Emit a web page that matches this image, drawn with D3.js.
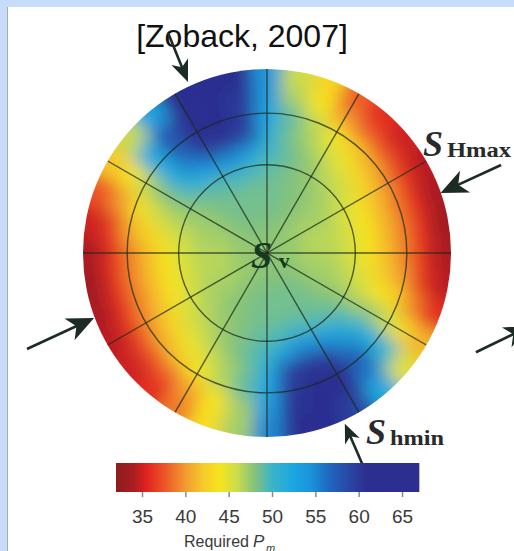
<!DOCTYPE html>
<html>
<head>
<meta charset="utf-8">
<script src="https://cdn.jsdelivr.net/npm/d3@7"></script>
<style>
  html, body { margin: 0; padding: 0; background: #fff; }
  svg { display: block; }
</style>
</head>
<body>
<div id="chart"></div>
<script>
// Required mud pressure Pm, one array per ring.
// azimuth is clockwise from the top, ring edges are fractions of the net radius
const azimuths = [0, 10, 20, 30, 40, 50, 60, 70, 80, 90, 100, 110, 120, 130, 140, 150, 160, 170,
                  180, 190, 200, 210, 220, 230, 240, 250, 260, 270, 280, 290, 300, 310, 320, 330, 340, 350];
const ringEdges = [0, 0.2, 0.4, 0.5, 0.6, 0.7, 0.8, 0.9, 1.12];

const pmRing10 = [48, 48, 48, 47.5, 47.5, 47.5, 47.5, 47.5, 47.5, 47.5, 47.5, 47.5, 47.5, 48, 48, 48, 48, 48,
                  48, 48, 48, 47.5, 47.5, 47.5, 47.5, 47.5, 47.5, 47.5, 47.5, 47.5, 47.5, 48, 48, 48, 48, 48];
const pmRing30 = [48.5, 48.5, 48, 48, 47.5, 47, 47, 46.5, 46.5, 46.5, 47, 47, 47.5, 48, 48.5, 48.5, 48.5, 48.5,
                  48.5, 48.5, 48, 48, 47.5, 47, 47, 46.5, 46.5, 46.5, 47, 47, 47.5, 48, 48.5, 48.5, 48.5, 48.5];
const pmRing45 = [49, 48.5, 48, 47.5, 47, 46.5, 46, 45.5, 45.5, 45.5, 46, 46.5, 47.5, 48.5, 49, 49.5, 50, 49.5,
                  49, 48.5, 48, 47.5, 47, 46.5, 46, 45.5, 45.5, 45.5, 46, 47, 47.5, 48.5, 49, 49.5, 50, 49.5];
const pmRing55 = [50, 49, 48, 47, 46, 45.5, 44.5, 44, 44, 44, 44.5, 45.5, 47, 49.5, 52, 54, 55, 53,
                  50, 49, 48, 47, 46, 45.5, 44.5, 44, 44, 44, 45, 46.5, 48, 50, 52.5, 54.5, 55, 53];
const pmRing65 = [52, 48.5, 47, 45.5, 44.5, 43, 42, 41.5, 41.5, 41.5, 42, 44, 47.5, 51.5, 55, 59.5, 60.5, 59,
                  52, 48.5, 47, 45.5, 44.5, 43, 42, 41.5, 41.5, 41.5, 43, 45.5, 48, 52, 56, 60, 60.5, 59];
const pmRing75 = [52.5, 49, 46.5, 44, 42, 40.5, 39.5, 39, 39, 39, 40, 42.5, 46, 52, 58, 61, 61.5, 60,
                  52.5, 49, 46.5, 44, 42, 40.5, 39.5, 39, 39, 39, 41, 43.5, 46.5, 52, 58, 61, 61.5, 60];
const pmRing85 = [54, 47, 44, 40, 38, 37, 36.5, 36, 36, 36, 36.5, 39, 43.5, 50, 56, 61, 62, 60.5,
                  54, 47, 44, 40.5, 38, 37, 36.5, 36, 36, 36, 37, 40, 44, 52, 58, 61.5, 62, 60];
const pmRing95 = [54, 46, 43, 38, 36, 35, 34.5, 34, 33.5, 34, 34.5, 36, 41, 45, 52, 59, 61.5, 61.5,
                  55, 47, 43.5, 39, 36, 35, 34.5, 34, 33.5, 34, 35, 37.5, 42, 46, 53, 61, 62, 61];
const pmRings = [pmRing10, pmRing30, pmRing45, pmRing55, pmRing65, pmRing75, pmRing85, pmRing95];

// net grid: small circles and great-circle spokes
const gridCircles = [0.48, 0.76];
const spokeAngles = [0, 30, 60, 90, 120, 150];

// colour bar
const colorbarDomain = [32, 67];
const colorbarTicks = [35, 40, 45, 50, 55, 60, 65];
const pmStops  = [32, 34, 35.5, 37.5, 40, 42, 44, 46, 47, 48, 49, 50, 52.5, 54.5, 56.5, 59, 61, 67];
const pmColors = ['#8a1c1e', '#ab1d22', '#e0221f', '#ec5327', '#f29a30', '#f5c92a', '#f6e41d', '#c9dc4c',
                  '#a6cf66', '#84c27a', '#5fbba4', '#3bb4c9', '#1ba6e2', '#1a93d9', '#1e6ac0', '#2a45a3',
                  '#2c2f90', '#2c2f90'];

const width = 514;
const height = 551;
const cx = 267, cy = 253, R = 184;

const rScale = d3.scaleLinear().domain([0, 1]).range([0, R]);
const color = d3.scaleLinear().domain(pmStops).range(pmColors).clamp(true);

function polar(az, rho) {
  const a = az * Math.PI / 180;
  return [cx + rScale(rho) * Math.sin(a), cy - rScale(rho) * Math.cos(a)];
}

const svg = d3.select('#chart')
  .append('svg')
  .attr('width', width)
  .attr('height', height);

// slide frame
svg.append('rect').attr('width', width).attr('height', height).attr('fill', '#c6dcf8');
svg.append('rect').attr('x', 8).attr('y', 7).attr('width', width - 8).attr('height', height - 7).attr('fill', '#fff');
svg.append('line').attr('x1', 7.5).attr('x2', 7.5).attr('y1', 7).attr('y2', height)
  .attr('stroke', '#a3adb8').attr('stroke-width', 1);

const defs = svg.append('defs');
defs.append('clipPath').attr('id', 'net-clip')
  .append('circle').attr('cx', cx).attr('cy', cy).attr('r', R);
defs.append('filter').attr('id', 'smooth')
  .attr('filterUnits', 'userSpaceOnUse')
  .attr('x', 0).attr('y', 0).attr('width', width).attr('height', height)
  .append('feGaussianBlur').attr('stdDeviation', 8.5);

// the coloured field
const net = svg.append('g').attr('clip-path', 'url(#net-clip)');
const field = net.append('g').attr('filter', 'url(#smooth)')
  .append('g').attr('transform', `translate(${cx},${cy})`);

const cells = [];
pmRings.forEach((vals, i) => {
  vals.forEach((v, j) => cells.push({ ring: i, az: azimuths[j], v: v }));
});

const arc = d3.arc()
  .innerRadius(d => rScale(ringEdges[d.ring]))
  .outerRadius(d => rScale(ringEdges[d.ring + 1]))
  .startAngle(d => (d.az - 5) * Math.PI / 180)
  .endAngle(d => (d.az + 5) * Math.PI / 180);

field.selectAll('path')
  .data(cells)
  .join('path')
  .attr('d', arc)
  .attr('fill', d => color(d.v))
  .attr('stroke', d => color(d.v))
  .attr('stroke-width', 0.8);

// grid on top
const grid = net.append('g')
  .attr('fill', 'none')
  .attr('stroke', '#1b2a1a')
  .attr('stroke-opacity', 0.72)
  .attr('stroke-width', 1.4);

grid.selectAll('circle')
  .data(gridCircles)
  .join('circle')
  .attr('cx', cx).attr('cy', cy)
  .attr('r', d => rScale(d));

grid.selectAll('line')
  .data(spokeAngles)
  .join('line')
  .attr('x1', d => polar(d, 1)[0]).attr('y1', d => polar(d, 1)[1])
  .attr('x2', d => polar(d + 180, 1)[0]).attr('y2', d => polar(d + 180, 1)[1]);

// title
svg.append('text')
  .attr('x', 242).attr('y', 47)
  .attr('text-anchor', 'middle')
  .style('font-family', '"Liberation Sans", Arial, sans-serif')
  .style('font-size', '32px')
  .attr('fill', '#111')
  .text('[Zoback, 2007]');

// stress arrows (tail / tip given in net coordinates)
const arrows = [
  { tail: [335.8, 1.311], tip: [335.2, 1.024], len: 22, half: 9 },
  { tail: [69.4, 1.359],  tip: [70.9, 0.998],  len: 27, half: 12 },
  { tail: [248.2, 1.405], tip: [249.4, 1.004], len: 27, half: 12 },
  { tail: [115.4, 1.257], tip: [105.5, 1.484], len: 26, half: 11 },
  { tail: [155.7, 1.27],  tip: [155.5, 1.02],  len: 19, half: 8 }
];
const arrowG = svg.append('g').attr('fill', '#1d2b25').attr('stroke', '#1d2b25');
arrows.forEach(a => {
  const [x1, y1] = polar(a.tail[0], a.tail[1]);
  const [x2, y2] = polar(a.tip[0], a.tip[1]);
  const ang = Math.atan2(y2 - y1, x2 - x1);
  arrowG.append('line')
    .attr('x1', x1).attr('y1', y1)
    .attr('x2', x2 - Math.cos(ang) * a.len * 0.6)
    .attr('y2', y2 - Math.sin(ang) * a.len * 0.6)
    .attr('stroke-width', 2.6);
  arrowG.append('path')
    .attr('d', `M0,0L${-a.len},${-a.half}L${-a.len * 0.72},0L${-a.len},${a.half}Z`)
    .attr('stroke', 'none')
    .attr('transform', `translate(${x2},${y2}) rotate(${ang * 180 / Math.PI})`);
});

// stress labels
const serif = '"Liberation Serif", "Times New Roman", serif';
function stressLabel(x, y, sub, subLen, col) {
  svg.append('text')
    .attr('x', x).attr('y', y)
    .style('font-family', serif).style('font-size', '36px')
    .style('font-style', 'italic').style('font-weight', 'bold')
    .attr('fill', col)
    .text('S');
  svg.append('text')
    .attr('x', x + 24).attr('y', y + 1)
    .style('font-family', serif).style('font-size', '20px').style('font-weight', 'bold')
    .attr('fill', col)
    .attr('textLength', subLen).attr('lengthAdjust', 'spacingAndGlyphs')
    .text(sub);
}
stressLabel(423, 156, 'Hmax', 64, '#2a2a2a');
stressLabel(366, 444, 'hmin', 54, '#2a2a2a');

svg.append('text')
  .attr('x', 251).attr('y', 268)
  .style('font-family', serif).style('font-size', '38px')
  .style('font-style', 'italic').style('font-weight', 'bold')
  .attr('fill', '#163a20')
  .text('S');
svg.append('text')
  .attr('x', 279).attr('y', 268)
  .style('font-family', serif).style('font-size', '21px').style('font-weight', 'bold')
  .attr('fill', '#163a20')
  .text('v');

// colour bar
const cbX = d3.scaleLinear().domain([35, 65]).range([142, 402]);
const cbY = 463, cbH = 29;
const grad = defs.append('linearGradient')
  .attr('id', 'pm-grad')
  .attr('gradientUnits', 'userSpaceOnUse')
  .attr('x1', cbX(colorbarDomain[0])).attr('x2', cbX(colorbarDomain[1]))
  .attr('y1', 0).attr('y2', 0);
grad.selectAll('stop')
  .data(pmStops.filter(v => v >= colorbarDomain[0] && v <= colorbarDomain[1]))
  .join('stop')
  .attr('offset', v => (v - colorbarDomain[0]) / (colorbarDomain[1] - colorbarDomain[0]))
  .attr('stop-color', v => color(v));

svg.append('rect')
  .attr('x', cbX(colorbarDomain[0])).attr('y', cbY)
  .attr('width', cbX(colorbarDomain[1]) - cbX(colorbarDomain[0]))
  .attr('height', cbH)
  .attr('fill', 'url(#pm-grad)');

const cbAxis = svg.append('g')
  .attr('transform', `translate(0,${cbY + cbH})`)
  .call(d3.axisBottom(cbX).tickValues(colorbarTicks).tickSize(5).tickPadding(13));
cbAxis.select('.domain').remove();
cbAxis.selectAll('.tick line').attr('stroke', '#8a8a8a').attr('stroke-width', 1.5);
cbAxis.selectAll('.tick text')
  .style('font-family', '"Liberation Sans", Arial, sans-serif')
  .style('font-size', '19px')
  .attr('fill', '#3a3a3a');

svg.append('text')
  .attr('x', 184).attr('y', 547)
  .style('font-family', '"Liberation Sans", Arial, sans-serif').style('font-size', '16px')
  .attr('fill', '#3a3a3a')
  .text('Required');
svg.append('text')
  .attr('x', 253).attr('y', 547)
  .style('font-family', '"Liberation Sans", Arial, sans-serif').style('font-size', '17px')
  .style('font-style', 'italic')
  .attr('fill', '#3a3a3a')
  .text('P');
svg.append('text')
  .attr('x', 266).attr('y', 552)
  .style('font-family', '"Liberation Sans", Arial, sans-serif').style('font-size', '11px')
  .style('font-style', 'italic')
  .attr('fill', '#3a3a3a')
  .text('m');
</script>
</body>
</html>
